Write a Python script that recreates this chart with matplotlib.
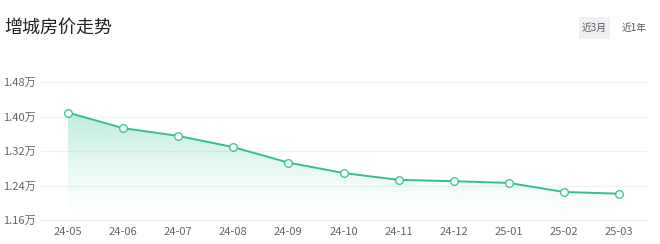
import numpy as np
import matplotlib.pyplot as plt
from matplotlib.patches import Polygon, FancyBboxPatch

plt.rcParams['font.family'] = ['Noto Sans CJK SC', 'DejaVu Sans']

months = ['24-05', '24-06', '24-07', '24-08', '24-09', '24-10',
          '24-11', '24-12', '25-01', '25-02', '25-03']
prices = [1.409, 1.373, 1.355, 1.329, 1.293, 1.269,
          1.253, 1.250, 1.246, 1.225, 1.221]
yticks = [1.16, 1.24, 1.32, 1.40, 1.48]
ytick_labels = ['1.16万', '1.24万', '1.32万', '1.40万', '1.48万']

line_color = '#35c08f'

fig = plt.figure(figsize=(6.6, 2.44), dpi=100)
ax = fig.add_axes([40.5 / 660, 24 / 244, 606 / 660, 138 / 244])

x = np.arange(len(months))
ax.set_xlim(-0.5, len(months) - 0.5)
ax.set_ylim(1.16, 1.48)

# gradient area under the line
grad = np.zeros((100, 1, 4))
grad[..., :3] = [0x35 / 255, 0xc8 / 255, 0x95 / 255]
grad[:, 0, 3] = 0.33 * np.linspace(0.0, 1.0, 100) ** 1.4
img = ax.imshow(grad, aspect='auto', origin='lower',
                extent=[x[0], x[-1], 1.16, max(prices)], zorder=1)
verts = list(zip(x, prices)) + [(x[-1], 1.16), (x[0], 1.16)]
clip = Polygon(verts, closed=True, transform=ax.transData, facecolor='none', edgecolor='none')
ax.add_patch(clip)
img.set_clip_path(clip)

ax.plot(x, prices, color=line_color, lw=1.4, zorder=3,
        marker='o', markersize=5.5, markerfacecolor='white',
        markeredgecolor=line_color, markeredgewidth=0.9)

ax.set_yticks(yticks)
ax.set_yticklabels(ytick_labels)
ax.set_xticks(x)
ax.set_xticklabels(months)
ax.grid(axis='y', color='#f2f2f2', lw=0.9)
ax.set_axisbelow(True)
for s in ['top', 'right', 'left']:
    ax.spines[s].set_visible(False)
ax.spines['bottom'].set_color('#eeeeee')
ax.tick_params(length=0, labelsize=8, colors='#666666')
ax.tick_params(axis='y', pad=3.5)
ax.tick_params(axis='x', pad=5)

fig.text(4 / 660, 1 - 28 / 244, '增城房价走势', fontsize=13, color='#222222', va='center')

btn = FancyBboxPatch((579 / 660, 1 - 39 / 244), 31 / 660, 22 / 244,
                     boxstyle='square,pad=0', transform=fig.transFigure,
                     facecolor='#eef0f3', edgecolor='none')
fig.patches.append(btn)
fig.text(594.5 / 660, 1 - 28 / 244, '近3月', fontsize=7, color='#555555', ha='center', va='center')
fig.text(634 / 660, 1 - 28 / 244, '近1年', fontsize=7, color='#555555', ha='center', va='center')

fig.savefig('out.png', dpi=100)
